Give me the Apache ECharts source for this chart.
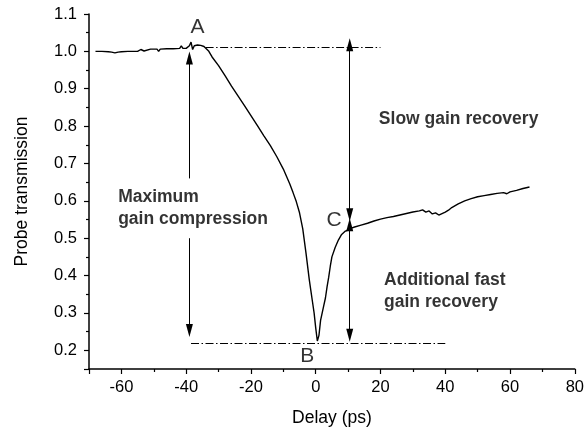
<!DOCTYPE html>
<html>
<head>
<meta charset="utf-8">
<script src="https://cdn.jsdelivr.net/npm/echarts@6/dist/echarts.min.js"></script>
<style>
html,body{margin:0;padding:0;background:#fff;}
#chart{width:587px;height:432px;}
</style>
</head>
<body>
<div id="chart"></div>
<script>
// Delay (ps)
const delay = [-68,-66,-64,-63,-62,-61,-60,-58,-56,-55,-54,-53.5,-53,-52.5,-51,-49,-48.5,-48,-46,-44,-42,-41.5,-41,-40,-39.5,-39,-38.5,-38,-37.5,-36.5,-35.5,-34.5,-34,-33,-32,-30,-28,-26,-24,-22,-20,-18,-16,-14,-12,-10,-9,-8,-7,-6,-5,-4,-3,-2,-1.5,-1,-0.5,0,0.5,1,1.5,2,2.5,3,3.5,4,4.5,5,6,7,8,9,10,11,12,14,16,18,20,22,24,26,28,30,32,33,34,35,36,37,38,39,40,41,42,44,46,48,50,52,54,56,58,59,60,62,64,66];
// Probe transmission
const transmission = [1.000,1.000,0.999,0.998,0.996,0.998,0.999,1.000,1.000,1.000,1.005,1.007,1.001,1.006,1.006,1.006,1.000,1.006,1.007,1.007,1.008,1.015,1.008,1.008,1.006,1.015,1.025,1.005,1.015,1.017,1.016,1.013,1.008,1.000,0.985,0.962,0.935,0.907,0.881,0.855,0.828,0.801,0.774,0.748,0.718,0.685,0.665,0.645,0.622,0.598,0.568,0.525,0.460,0.390,0.360,0.330,0.300,0.260,0.225,0.240,0.280,0.300,0.320,0.340,0.370,0.395,0.425,0.450,0.475,0.495,0.510,0.518,0.522,0.527,0.530,0.535,0.540,0.546,0.551,0.555,0.558,0.562,0.566,0.570,0.573,0.576,0.570,0.573,0.565,0.568,0.562,0.566,0.570,0.575,0.582,0.592,0.600,0.606,0.611,0.614,0.617,0.620,0.622,0.619,0.624,0.628,0.633,0.637];

// Reference levels (dash-dot lines): [y, xStart, xEnd]
const levelA = [1.01, -34, 20];
const levelB = [0.22, -38.5, 40];

// Arrows: [x, yFrom, yTo, startArrow, endArrow]
const arrows = [
  [-39, 0.66, 1.0, false, true],
  [-39, 0.50, 0.235, false, true],
  [10.5, 1.0, 0.545, true, true],
  [10.5, 0.518, 0.222, true, true]
];

// Point letters: [label, x, y]
const letters = [['A', -36.5, 1.066], ['B', -2.6, 0.183], ['C', 5.7, 0.547]];
// Bold notes: [text, xLeft, yCenter]
const notes = [
  ['Slow gain recovery', 19.5, 0.818],
  ['Maximum\ngain compression', -61, 0.581],
  ['Additional fast\ngain recovery', 21.1, 0.359]
];

const xTicks = [-60, -40, -20, 0, 20, 40, 60, 80];

const chart = echarts.init(document.getElementById('chart'), null, {renderer: 'canvas'});
const FONT = 'Liberation Sans, Arial, sans-serif';

const dashDot = [8, 2.5, 1.5, 2.5];
const arrowLen = 0.018;
const markData = [];
[levelA, levelB].forEach(l => {
  markData.push([
    {coord: [l[1], l[0]], symbol: 'none', lineStyle: {type: dashDot, width: 1, color: '#000'}},
    {coord: [l[2], l[0]], symbol: 'none'}
  ]);
});
arrows.forEach(a => {
  const dir = a[2] > a[1] ? 1 : -1;
  const y1 = a[3] ? a[1] - dir * arrowLen : a[1];
  const y2 = a[4] ? a[2] - dir * arrowLen : a[2];
  markData.push([
    {coord: [a[0], y1], symbol: a[3] ? 'triangle' : 'none', lineStyle: {type: 'solid', width: 1, color: '#000'}},
    {coord: [a[0], y2], symbol: a[4] ? 'triangle' : 'none'}
  ]);
});

const option = {
  backgroundColor: '#fff',
  animation: false,
  grid: {left: 89, right: 10.3, top: 14, bottom: 60.5, containLabel: false},
  xAxis: {
    type: 'value', min: -70, max: 80, minInterval: 20, maxInterval: 20, splitNumber: 7,
    name: 'Delay (ps)', nameLocation: 'middle', nameGap: 40,
    nameTextStyle: {fontFamily: FONT, fontSize: 17.5, color: '#000'},
    axisLine: {onZero: false, lineStyle: {color: '#000', width: 1.5}},
    axisTick: {inside: false, length: 5, lineStyle: {color: '#000', width: 1.2}},
    minorTick: {show: true, splitNumber: 2, length: 3, lineStyle: {color: '#000', width: 1.2}},
    splitLine: {show: false},
    axisLabel: {showMinLabel: false, margin: 10, fontFamily: FONT, fontSize: 16.5, color: '#000',
      formatter: v => (xTicks.indexOf(v) >= 0 ? String(v) : '')}
  },
  yAxis: {
    type: 'value', min: 0.15, max: 1.1, minInterval: 0.1, maxInterval: 0.1, splitNumber: 9,
    name: 'Probe transmission', nameLocation: 'middle', nameGap: 58,
    nameTextStyle: {fontFamily: FONT, fontSize: 17.5, color: '#000'},
    axisLine: {onZero: false, lineStyle: {color: '#000', width: 1.5}},
    axisTick: {inside: false, length: 5, lineStyle: {color: '#000', width: 1.2}},
    minorTick: {show: true, splitNumber: 2, length: 3, lineStyle: {color: '#000', width: 1.2}},
    splitLine: {show: false},
    axisLabel: {showMinLabel: false, margin: 12, fontFamily: FONT, fontSize: 16.5, color: '#000',
      formatter: v => v.toFixed(1)}
  },
  series: [
    {
      type: 'line', data: delay.map((d, i) => [d, transmission[i]]),
      showSymbol: false, symbol: 'none', smooth: false,
      lineStyle: {color: '#000', width: 1.4},
      markLine: {silent: true, symbolSize: [7, 13], precision: 4, label: {show: false},
        lineStyle: {color: '#000'}, emphasis: {disabled: true}, data: markData}
    },
    {
      type: 'scatter', symbolSize: 0, silent: true,
      data: letters.map(l => ({value: [l[1], l[2]], name: l[0]})),
      label: {show: true, position: 'inside', formatter: p => p.name,
        fontFamily: FONT, fontSize: 21, color: '#000'}
    },
    {
      type: 'scatter', symbolSize: 0, silent: true,
      data: notes.map(n => ({value: [n[1], n[2]], name: n[0]})),
      label: {show: true, position: 'right', distance: 0, formatter: p => p.name,
        fontFamily: FONT, fontSize: 17.5, fontWeight: 'bold', lineHeight: 22, color: '#000', align: 'left'}
    }
  ]
};
chart.setOption(option);
</script>
</body>
</html>
